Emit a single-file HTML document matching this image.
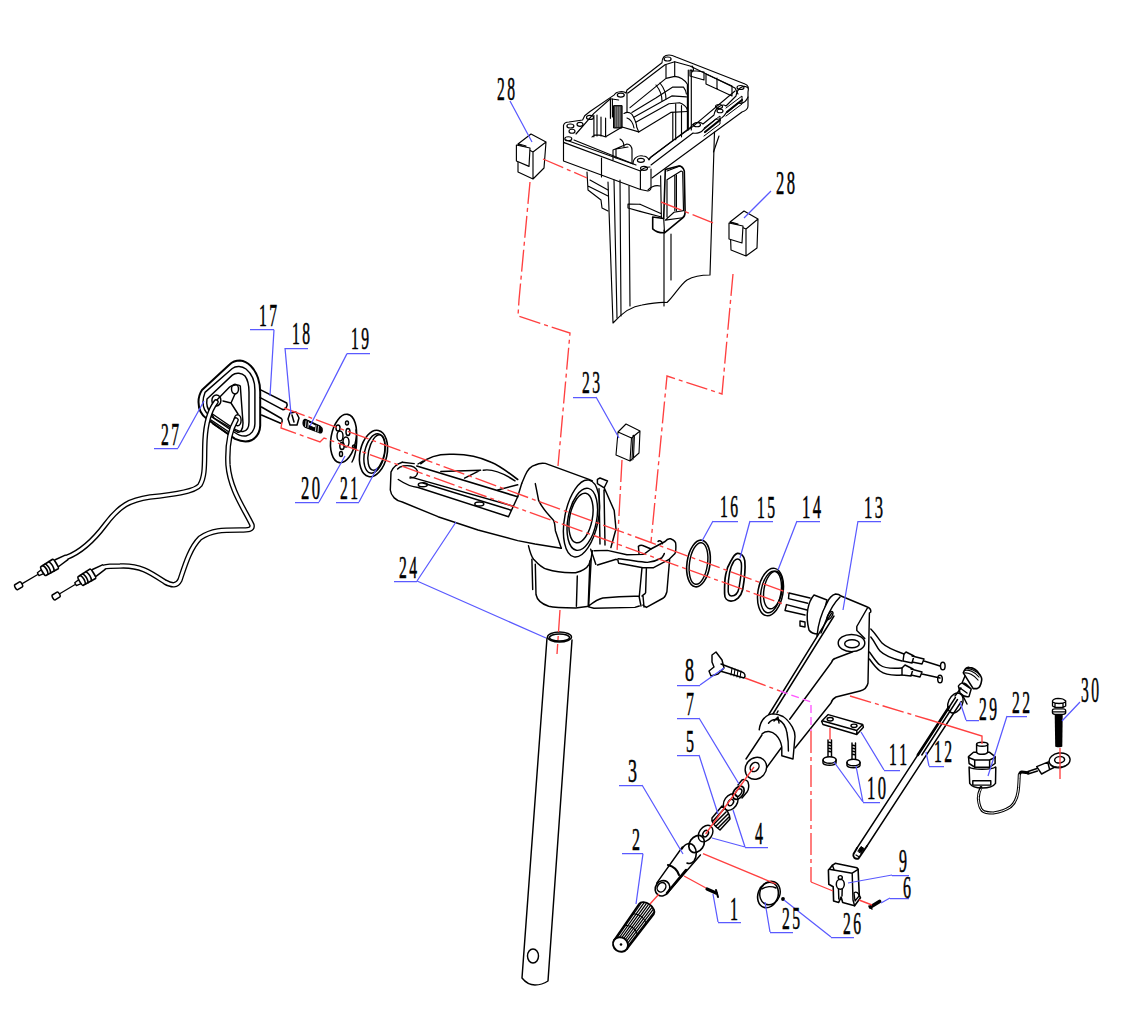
<!DOCTYPE html>
<html><head><meta charset="utf-8"><style>
html,body{margin:0;padding:0;background:#fff;}
svg{display:block;}
</style></head><body>
<svg width="1130" height="1011" viewBox="0 0 1130 1011">
<rect width="1130" height="1011" fill="#fff"/>
<g fill="none" stroke="#000" stroke-width="1.45" stroke-linejoin="round" stroke-linecap="round">

<g stroke-width="1.15">
<!-- lower case frame -->
<path d="M563.5,142.4 V125.4 C564,123 566,122 569,122 L582.6,120 L584.7,115.8 L590,111.5 L614.3,94.9 C616,91 624,91 626,93 L627,90 L662,62.8 C662,56 666,55 669,55 C672,55 674,56 676,57 L745,84 C748,85 749,88 748,92 V106 C748,109 745,111 742,112 L695.6,146 L652,178"/>
<path d="M563.5,142.4 L640.4,171 V189.5 L563.5,161 Z M601.5,158 V177"/>
<path d="M640.4,171 C643,168 647,167 650,167 M651,169 V187.4 C651,190 649,191 647.8,191 L640.4,189.5"/>
<path d="M566,140 L633,164 C633,158 638,155 643,156 C646,156 648,158 649,160 L651,157 L691,127 C693,122 700,121 703,124 L714,115 C715,108 722,103 726,106 L736,96 C737,88 744,84 748,88"/>
<path d="M651,165 L693,133 C697,134 702,132 703,130 L716,119 C720,120 724,117 726,113 L738,103 C742,104 746,102 748,97"/>
<path d="M574,140 L636,165 M576,134 L593.9,113.4 L610.4,98.8 L618.7,100 M628,93 L665,64.7 L674.7,61.8 L690,66 L735,88 L738,94"/>
<path d="M735,91 L692.4,126.9 L674.3,139.6 L648.8,158.7"/>
<path d="M690,70 L704,72 L704,80 L690,76 Z M706,74 L732,86 L732,96 L706,84 Z M717,78 L717,89 M692,66 C694,68 694,71 692,72"/>
<path d="M610.4,98.8 V118.3 M612.4,99 V117 M666,64.7 V77.4 M674.7,61.8 V76.4 M627,92.5 V112"/>
<path d="M630,107.6 L666,78.4 L674.7,76.4 C680,77 684,79 687.4,84.2 L687.4,111.5"/>
<path d="M631.9,112.4 L656.2,97.8 L672.8,87.1 L683.5,87.1 C685,89 686,91 686.4,94 M633.8,117.3 L671.8,95.9 L686.4,96.9 M635.8,122.2 L668.9,103.7 L679.6,102.7 C683,104 686,106 687.4,109.5 M638.7,131.9 L670.8,112.4 L687.4,111.5"/>
<path d="M672.8,112.4 V140.7 M675.7,103.7 V139.7 M681.5,105.6 V136.8 M687.4,107.6 V130 M688.3,70 V130 M691.3,70 V130"/>
<path d="M624,113.4 C628,111 632,113 633,116 C635,120 636.7,124 636.7,127 L638.7,131.9 M656,85 C660,90 662,96 662,101 M660,83 C664,88 666,94 666,99 M627,118 C630,119 633,123 634,128"/>
<rect x="613.9" y="105.6" width="8.2" height="22.4" fill="#333" stroke-width="1"/>
<path stroke="#fff" stroke-width="0.5" d="M615.8,107 V126.5 M617.8,107 V126.5 M619.8,107 V126.5"/>
<path d="M593.9,115.4 V136.8 M597,115 V136 M601,117 V136 M605.6,118 V136.8 M605.6,136.8 L622.1,127 L638.7,131.9 M592,137 C594,134 598,134 606,137"/>
<path d="M613,160 L613,150 L627,144 C630,144 632,147 632,150 L632,163 M616,158 L616,149 L628,147"/>
<path d="M620,139 C622,140 624,143 624,147"/>
<ellipse cx="667.6" cy="59" rx="3.5" ry="2"/>
<ellipse cx="740.5" cy="87.5" rx="3.5" ry="2"/>
<ellipse cx="697" cy="124.7" rx="3.5" ry="2"/>
<ellipse cx="719" cy="106.5" rx="3.5" ry="2"/>
<ellipse cx="720" cy="111" rx="3" ry="1.8"/>
<ellipse cx="640.9" cy="160.3" rx="3.5" ry="2"/>
<ellipse cx="644" cy="168.3" rx="3.5" ry="2"/>
<ellipse cx="620.8" cy="95.1" rx="3.5" ry="2"/>
<ellipse cx="590" cy="117.4" rx="3.5" ry="2"/>
<ellipse cx="570.4" cy="126" rx="3.5" ry="2"/>
<ellipse cx="580" cy="124.3" rx="3" ry="2"/>
<ellipse cx="572" cy="131.2" rx="3" ry="2"/>
<ellipse cx="568.3" cy="138.7" rx="3.5" ry="2"/>
<path stroke-width="2.2" d="M705,132 L720,120 M727,112 L742,100"/>
<path stroke-width="1" d="M704,128 L720,116 L720,124 L704,136 M726,108 L742,96 L742,104 L726,116"/>
<!-- case shaft -->
<path d="M608,182 L613,323 C622,313 632,306 642,305 C652,303 662,302 667,302.5 C674,296 680,285 687,280 C694,276 702,275 710,275 L714.5,132"/>
<path d="M614,180 L617,318 M620,180 L621,316 M629,186 L630,306 M664,230 L664,306 M671,234 L671,280"/>
<path d="M587,172 L588,190 L601,200 L602,208 L608,211 M588,186 L608,196 M590,180 L608,190"/>
<path d="M628,204 L640,204.3 M628,208 L640,211.4 M628,204 L628,208"/>
<path d="M648,190 C652,186 656,185 660,186"/>
<path stroke-width="1.6" d="M665.3,169.5 L678.8,165.9 C681,166 683,167 684.3,171 L685.1,212.2 C685,215 684,217 682.7,217.8 L664.5,232.8 C660,233 655,231 652.7,228.8 L652.7,217 M665.3,169.5 L663.7,218.5 L652.7,217"/>
<path d="M667,179.8 L681.1,171 C682,171 683,172 682.7,172.7 L683.5,210.6 L674,212.2 L665.3,220.1 M667,179.8 L667,217 M674.8,175.8 V210.6 M676.4,175 V210.6 M663.7,218.5 L664.5,232.8 M665.3,220.1 L682.7,217.8"/>
<path d="M660.6,175.8 L661.4,218.5 M640,204.3 L661.4,213.8 M640,211.4 L661.4,217 M667,171 L680,166"/>
<path d="M719,136 L713.5,152"/>
</g>
<!-- block 28 left -->
<path stroke-width="1.15" d="M518,144 L531,134 L546,142 L533,152 Z M518,144 L518,172 L533,179 L544,168 L546,142 M533,152 L533,179"/>
<path fill="#fff" stroke-width="1.15" d="M516.4,145 L530,148 L529,166.4 L516.4,161 Z M519,144 L526,146"/>
<!-- block 28 right -->
<path stroke-width="1.15" d="M730,222 L744,211 L758,219 L746,229 Z M730,222 L731,250 L746,256 L757,248 L758,219 M746,229 L746,256"/>
<path fill="#fff" stroke-width="1.15" d="M729,223 L743,226 L742,243 L729,239 Z M731,222 L738,224"/>
<!-- block 23 -->
<path stroke-width="1.1" d="M618,432 L626,424 L640,431 L631.5,438 Z M618,432 L616,455 L630,461 L639,453 L640,431 M631.5,438 L630,461 M633,437 L632,460 M634.4,436.5 L633.4,459 M633,436 C633,435 634,435 634.4,436"/>
<!-- swivel bracket 24 -->
<path d="M402.3,462.3 C397,464 393,467 391,472 L390.3,490 C391,496 396,501 402.3,502 L438,516.7 L478,530 L517.7,540.6 L535,544 L561.3,548.3"/>
<path d="M402.3,462.3 L414.2,463.6 M397.6,469 C400,466 406,465 411,466 C416,467 418,471 417.5,473 C417,476 414,478 410,478"/>
<path stroke-width="1.6" d="M416.8,466 L517.7,496.8"/>
<path d="M410.2,476.9 L512.4,506 M423,483 L510.5,510 M398.3,479.5 C405,484 412,487 418.2,487.5 L508.5,516.7 M508.5,516.7 L517.7,496.8 L521.7,483.5"/>
<path stroke-width="1.6" d="M420.8,463.6 C428,457 440,454 451.4,454.3 C465,454 480,457 491.2,462.3 C500,466 508,472 517.7,479.5"/>
<path d="M440.8,471.5 L480.6,470.2 L464.6,478.2 M483.2,470.2 C490,469 500,471 515,480.8 M497.8,490 L517.7,484.8 M418,464 L423,461"/>
<ellipse cx="422.8" cy="484.8" rx="4.5" ry="2"/>
<ellipse cx="479.3" cy="504" rx="4.5" ry="2"/>
<path d="M521.7,483.5 L525.2,475.2 C528,469 531,466 535.3,465 C539,463 543,463 545.3,463.4 L589,479.4 L592.4,481"/>
<path d="M535.3,483.6 C537,492 538,497 538.6,500.4 C543,510 550,516 553.7,520.6 C555,524 555,527 555.4,530.7 L561.3,548.3"/>
<ellipse cx="581.5" cy="518.5" rx="16.8" ry="39.1" transform="rotate(11 581.5 518.5)"/>
<ellipse cx="582.3" cy="519.3" rx="14.3" ry="31.5" transform="rotate(11 582.3 519.3)"/>
<ellipse cx="581" cy="518" rx="11.3" ry="25.2" transform="rotate(11 581 518)"/>
<path d="M597.4,479.4 L600,478 L607.5,481 L604.2,487.8 L597.4,483.6 Z M604.2,487.8 L614.2,510.5 L616,529 L610.9,547.5 M599,488.7 L600,544 M604,490 L605,545"/>
<path d="M528.5,545.8 C530,552 531,556 533.6,559.2 C538,564 542,568 547,569.3 C555,572 565,573 575.6,572.7 C582,571 587,568 589,564.3 C591,560 592,555 592.4,550.8"/>
<path d="M531.9,559.2 L532.7,589.5 M535.3,564.3 L536,594.5 C537,600 542,604 548.7,606.3 C555,608 565,608 575.6,608 L589,606.3 M577.3,576 L576.4,606.3 M589.9,561 L588.2,606.3"/>
<path d="M590.7,549.2 L595.8,564.3 M594,550.8 L607.3,550.4 L626.9,554.8 L643.8,554.4 L650.9,549 L665.1,541.5 C667,539 669,538.5 670.5,538.8 C674,540 676,542 675.8,544.6 C676,548 676,551 675,553.5 L668.7,559.7 L653.6,567.7 L642.9,567.7 L618.8,563.3 C618,562 618,561 618,560.2 L616.2,559.3 L597.5,565"/>
<path d="M618,558.8 C630,560 640,562 647.3,562.4 C653,562 658,560 661.6,558 C663,556 664,555 664.3,553.5 M638.4,546.4 C640,545 642,545 644,546 L651,549 M638.4,546.4 L639,554 M658,541.5 C659,540 662,541 662.5,543.7"/>
<path d="M591.2,558.8 L588.6,606.9 L593.9,608.3 L634.9,607.4 L639.3,606 M588.6,606 C595,601 598,599 602.8,598 C612,597 628,596 638.4,596.2 M642,567.7 L639.3,596.2 M646.4,568.6 L645.6,592.7 C645,594 643,595 642,596 M669.6,559.7 L666.9,591.8 C666,595 665,597 663.4,598 L646.4,607.4 L642.9,605.1 M639,596 L641,606 M643,596 L644,607"/>
<!-- tube -->
<ellipse cx="559.5" cy="637" rx="12" ry="5" fill="#fff"/>
<ellipse cx="559.5" cy="637.5" rx="10" ry="3.5"/>
<path d="M547,638 L522,978 C526,983 531,985 535,985 C540,985 545,983 548,981 L572,640"/>
<ellipse cx="533" cy="956" rx="5.5" ry="7"/>

<!-- rings 16 15 14 -->
<ellipse cx="698.5" cy="563.5" rx="11.5" ry="23.5" transform="rotate(8 698.5 563.5)" stroke-width="1.6"/>
<ellipse cx="698.5" cy="563.5" rx="9" ry="21" transform="rotate(8 698.5 563.5)"/>
<path stroke-width="1.7" d="M737.3,553.4 C741,553 744,556 744.8,560.8 C745.5,568 744,582 742.7,589.5 C741,597 736,601 731,601.2 C727,601 724.5,598 724.6,593.7 C724.5,587 724.5,580 725.7,574.6 C726.5,569 729,564 731,560.8 C733,557 735,554 737.3,553.4 Z"/>
<path stroke-width="1.5" d="M737.5,559 C740,559 741.5,562 741.5,566 C741.5,574 740,582 739,588 C738,593 735,596 731.5,596 C729,596 728,593 728.2,590 C728,584 728.5,578 729.5,573 C730.5,568 732,564 734,561 C735,560 736,559 737.5,559 Z"/>
<ellipse cx="770.5" cy="592" rx="12.5" ry="24" transform="rotate(10 770.5 592)" stroke-width="1.5"/>
<ellipse cx="771" cy="592" rx="10" ry="21" transform="rotate(10 771 592)"/>
<ellipse cx="773" cy="590" rx="9" ry="19" transform="rotate(10 773 590)"/>
<!-- steering arm 13 -->
<path d="M789,593 L810,598 M788.5,598.6 L807.7,603.2 M789,593 L788.5,598.6 M786.5,604.6 L807,610 M785,610.5 L805,615 M786.5,604.6 L785,610.5"/>
<path d="M800,621 L805,622 L805,627 L800,626 Z"/>
<path fill="#fff" d="M814,595 C808,602 805,615 809,630 C811,633 815,634 818,634 L827,600 Z"/>
<path fill="#fff" stroke="none" d="M835.6,594 C838,594 840,595 841,596 L867.4,607 C870,608 871,610 870.8,612 L869.4,613 L868,683 C867,688 864,690 860,691 L836,697 C834,698 832,700 831,703 L795,748 L768,716 L817,636 C818,625 822,612 827,603 C829,598 832,595 835.6,594 Z"/>
<path d="M817,636 C818,625 822,612 827,603 C829,598 832,595 835.6,594 C838,594 840,595 841,596 L867.4,607 C870,608 871,610 870.8,612 L869.4,613 L868,683 C867,688 864,690 860,691 L836,697 C834,698 832,700 831,703 L795,748"/>
<path d="M840,597 C835,602 830,610 827,618 C825,623 823,628 821,633"/>
<path d="M867.4,608 L856.8,626.5 L856.8,630.4 L864.8,638.4"/>
<ellipse cx="851.5" cy="643" rx="13.3" ry="8.6" fill="#fff"/>
<ellipse cx="852" cy="643.7" rx="7.3" ry="4"/>
<path d="M852.8,651.7 L835.6,658.3 C833,659 832,661 831.6,662.3 L789.7,719.2"/>
<path d="M831.6,613.2 L768.5,715 M834,616 L771,717"/>
<ellipse cx="830" cy="615.5" rx="2" ry="4.5" transform="rotate(30 830 615.5)"/>
<path d="M870.8,629 C876,634 879,640 882,643 C885,646 890,649 904,654 M870.8,637 C875,642 877,648 880,651 C884,655 890,658 902,661 M869.4,652 C874,658 876,662 880,665 C884,668 890,669 902,668 M869.4,659 C873,664 876,668 880,671 C884,674 890,676 902,675"/>
<path d="M904,654 L906,652 L914,656 L912,663 L903,661 Z M912,656 L924,659 L922,664 L912,662 M924,661 L940,666 M902,668 L905,665 L913,669 L911,676 L902,675 Z M911,669 L922,672 L920,677 L911,675 M922,674 L940,678"/>
<ellipse cx="942.8" cy="666" rx="2.3" ry="3.8"/>
<ellipse cx="940" cy="679" rx="2.3" ry="3.8"/>
<path fill="#fff" stroke="none" d="M759.2,729.8 C760,724 762,720 764.5,717.9 C767,715 770,714 773.8,713.9 C777,714 780,715 783,716.5 C787,719 790,723 792.4,727.2 C794,730 795,733 795,736.5 L793,759 L781.8,755.7 L781.8,747 L763.2,772.3 L746,759 Z"/>
<path d="M759.2,729.8 C760,724 762,720 764.5,717.9 C767,715 770,714 773.8,713.9 C777,714 780,715 783,716.5 C787,719 790,723 792.4,727.2 C794,730 795,733 795,736.5 L793,759 L781.8,755.7 L781.8,748"/>
<path d="M768.5,723.2 C771,720 775,719 779,720 C783,722 786,727 787,733 C788,738 788.5,745 788.4,751"/>
<path d="M774,721 L778,717 L779,723 M777,713 L778,711"/>
<path d="M761.9,735 L746,759 M781.8,747 L763.2,772.3 M762,734 C766,730 772,731 776,735 C779,738 781,742 781.8,747"/>
<ellipse cx="755.9" cy="768.3" rx="10.2" ry="11.5" transform="rotate(40 755.9 768.3)" fill="#fff"/>
<ellipse cx="754.6" cy="767" rx="4" ry="5" transform="rotate(40 754.6 767)"/>
<!-- plate 11 -->
<path d="M821.6,721.2 L828.2,714.6 L862.7,724.5 L863.4,727.2 L856.8,734.5 L823,724.5 Z M823,724.5 L821.6,721.2 M856.8,730.5 L862.7,724.5 M823,721 L856.8,730.5 L856.8,734.5"/>
<ellipse cx="830.2" cy="719.2" rx="3" ry="1.7"/>
<ellipse cx="854" cy="725.8" rx="3" ry="1.7"/>
<!-- screws 10 -->
<path d="M828,740 L828,757 M831.5,740 L831.5,757 M828,742 L831.5,743 M828,745 L831.5,746 M828,748 L831.5,749 M828,751 L831.5,752"/>
<ellipse cx="829.6" cy="760" rx="6.6" ry="3.3" fill="#fff"/>
<path d="M823,760 V763 C824,766 835,766 836,763 V760"/>
<path d="M852,743 L852,759 M855.5,743 L855.5,759 M852,745 L855.5,746 M852,748 L855.5,749 M852,751 L855.5,752 M852,754 L855.5,755"/>
<ellipse cx="853.5" cy="762.5" rx="6.6" ry="3.3" fill="#fff"/>
<path d="M847,762.5 V765.5 C848,768.5 859,768.5 860,765.5 V762.5"/>
<!-- part 8 wing screw -->
<path d="M712,655 L716,652 L722,660 L724,668 L718,674 L711,676 L709,671 L714,667 L712,662 Z"/>
<path d="M721,664 L742,672 C745,673 746,676 744,678 L720,671"/>
<path stroke-width="1.1" d="M732,668 L731,675 M735,669 L734,676 M738,670 L737,677 M741,671 L740,678"/>
<!-- nut 7, washers, spring -->
<path d="M738,785 L742,780 C744,779 747,780 748,782 C749,785 749,789 747,792 L742,798"/>
<ellipse cx="738.4" cy="792.8" rx="4.8" ry="7.3" transform="rotate(35 738.4 792.8)" stroke-width="1.7"/>
<ellipse cx="738.6" cy="792.6" rx="2.6" ry="4.2" transform="rotate(35 738.6 792.6)"/>
<ellipse cx="730.7" cy="802.1" rx="6.4" ry="9" transform="rotate(35 730.7 802.1)"/>
<ellipse cx="730.7" cy="802.5" rx="2.5" ry="3.5" transform="rotate(35 730.7 802.5)"/>
<path stroke-width="1.5" d="M712,818 L722,806 M713,821 L724,809 M714,824 L726,812 M716,826 L728,814 M718,828 L729,817 M720,830 L730,819 M712,818 C711,821 714,826 720,830 M722,806 C726,808 730,814 730,819"/>
<ellipse cx="705.6" cy="833.6" rx="6.4" ry="9" transform="rotate(35 705.6 833.6)"/>
<ellipse cx="705.6" cy="833.6" rx="2.5" ry="3.5" transform="rotate(35 705.6 833.6)"/>
<!-- shaft 3 -->
<ellipse cx="696.6" cy="844" rx="7" ry="9.2" transform="rotate(35 696.6 844)" stroke-width="1.7"/>
<path stroke-width="1.6" d="M682,849 C685,843 691,842 694,846 C697,850 697,857 694,861 C692,863 689,864 687,863"/>
<path d="M682.4,847 L656.7,883.2 M700.4,854.9 L667,893.4"/>
<ellipse cx="662.5" cy="888.3" rx="7" ry="8" transform="rotate(35 662.5 888.3)" fill="#fff" stroke-width="1.6"/>
<ellipse cx="661.5" cy="887.3" rx="4" ry="5" transform="rotate(35 661.5 887.3)"/>
<path stroke-width="2.5" d="M686,870 L667,893"/>
<path stroke-width="2.2" d="M668,865 C672,866 677,869 679,875"/>
<!-- screw 1 -->
<path stroke-width="3.2" d="M707,889 L716,893"/>
<path stroke-width="2" d="M716,890 L718,897"/>
<!-- grip 2 -->
<clipPath id="gripclip"><path d="M626.8,949.1 L653.8,914.3 A5.5,9.0 -53.8 0 0 639.2,903.7 L614.2,939.9 Z"/></clipPath>
<path fill="#fff" stroke-width="1.8" d="M626.8,949.1 L653.8,914.3 A5.5,9.0 -53.8 0 0 639.2,903.7 L614.2,939.9 Z"/>
<g clip-path="url(#gripclip)" stroke-width="1.25">
<path d="M616.2,938.9 L642.5,901.1 M617.7,940.0 L644.3,902.4 M619.3,941.2 L646.1,903.8 M620.9,942.3 L648.0,905.1 M622.5,943.5 L649.8,906.4 M624.0,944.6 L651.6,907.8 M625.6,945.8 L653.4,909.1 M627.2,946.9 L655.2,910.4"/>
<path d="M636.5,936.6 A5,8.2 -53.8 0 0 623.2,926.9" stroke-width="1.1" fill="none"/><path d="M645.1,925.5 A5,8.6 -53.8 0 0 631.2,915.3" stroke-width="1.1" fill="none"/>
</g>
<ellipse cx="620.5" cy="944.5" rx="7" ry="7.8" transform="rotate(-53.8 620.5 944.5)" fill="#fff" stroke-width="1.9"/>
<circle cx="621.0" cy="944.5" r="1.3" fill="#000" stroke="none"/>
<!-- ring 25 -->
<ellipse cx="768" cy="895" rx="10" ry="13" transform="rotate(20 768 895)" stroke-width="1.6"/>
<ellipse cx="770" cy="893" rx="10" ry="12" transform="rotate(20 770 893)"/>
<path d="M762,889 C766,886 772,886 776,888"/>
<circle cx="783" cy="899" r="1.2" fill="#000"/>
<!-- bracket 9 -->
<path stroke-width="1.6" d="M829.2,869.3 L832.4,865.3 L835.2,863.3 L856.9,867.7 L858.1,869.3 L859.3,895.4 L860.5,897.8 L854.6,905.7 L842.7,902.5 L841.1,897 L838.7,902.5 L833.6,900.9 L833.2,886.7 L828.8,884.3 L828.4,870 Z"/>
<path d="M829.2,869.3 L852.2,873.2 L858.1,869.3 M852.2,873.2 L853,900 L854.6,905.7 M832.4,865.3 L834,869.5"/>
<ellipse cx="840.3" cy="884.3" rx="4" ry="5"/>
<circle cx="840.3" cy="877.6" r="2"/>
<path d="M838.5,889 L838.8,899 M842.2,889 L842,896"/>
<path stroke-width="1.3" d="M854,893 C856,891 859,893 859,896 L855,901 Z"/>
<!-- screw 6 -->
<path stroke-width="3.8" d="M870.5,907 L879.5,901.5"/>
<path stroke-width="1.5" d="M869,906 L872,909"/>
<!-- rod 12 -->
<path d="M955.4,697.5 L857,848 M961.3,701.5 L867,846 M957.5,699.5 L921.8,755"/>
<path stroke-width="2.6" d="M949,707 L917.8,755"/>
<path stroke-width="1.9" d="M857,848 L853.5,854 C852.5,857 855,859.5 858.5,858.5 L867,846"/>
<path fill="#000" stroke-width="1" d="M858,851 L861,846.5 L864,848.5 L861,853 Z"/>
<path stroke-width="1.2" d="M856,855 L858.5,856.5"/>
<!-- part 29 knob -->
<path fill="#fff" stroke-width="1.6" d="M963.3,672.8 C965,668 967,667 969.2,667.4 C973,668 977,670 979.1,673.8 C981,676 982,679 981.6,680.7 C981,685 979,688 977.2,688.6 L973.2,688.6 Z"/>
<path stroke-width="1.2" d="M964.5,670.5 C968,669 975,672 979,677 M964,673 C968,672 974,675 978,680 M966,668.5 C970,668 976,671 980,675"/>
<path d="M965,676 L962,683 L971,689 M958.4,686 C960,683 963,682 966,684 L971.2,689 L969,696.5 C967,697 963,696 960,693 Z M960,688 L967,693"/>
<path d="M955,696 L961,688 M963,696 L967,704"/>
<ellipse cx="955.4" cy="703" rx="7" ry="10.5" transform="rotate(25 955.4 703)"/>
<!-- sensor 22 -->
<path d="M976.6,744.2 L976.6,757 M987.7,744.2 L987.7,757 M976.6,757 C978,759 986,759 987.7,757"/>
<ellipse cx="982.2" cy="744.2" rx="5.6" ry="2"/>
<path fill="#fff" stroke-width="1.5" d="M968.5,756.6 L973.5,752.3 L976.6,752.3 C978,755 986,755 987.7,752.3 L989.6,752.3 L995.1,756.6 L995.1,763.5 L989.6,767.2 L974.7,767.2 L969.1,763.5 Z"/>
<path d="M968.5,757.5 L974.7,760 L989.6,760 L995.1,757.5 M974.7,760 V767.2 M989.6,760 V767.2"/>
<path stroke-width="1.5" d="M969.1,767 C972,770 992,770 995.5,767 M969.1,767.2 L969.7,783.3 C972,787 977,788 982.1,788 C988,788 993,787 995.5,783.3 L995.8,767.2"/>
<path d="M972.8,780.8 L990.8,780.8 L990.8,785.1 L972.8,785.1 Z"/>
<path stroke-width="3" d="M980.9,787.5 C979,792 978,796 978.4,799.4 C979,805 980,808 982.1,810.5 C985,813 989,813 993.3,813 C1000,812 1006,810 1010.6,806.8 C1015,803 1017,798 1018,792 C1019,786 1019,780 1019.3,774.6 C1020,773 1021,772 1021.8,772.1 L1028,772.8"/>
<path stroke="#fff" stroke-width="1" d="M980.9,789 C979,792 978,796 978.4,799.4 C979,805 980,808 982.1,810.5 C985,813 989,813 993.3,813 C1000,812 1006,810 1010.6,806.8 C1015,803 1017,798 1018,792 C1019,786 1019,780 1019.3,774.6"/>
<path d="M1028,771.5 L1037,768.5 M1028,774 L1037.5,771"/>
<path fill="#fff" d="M1036.7,766.6 L1047.8,762.2 L1049.7,769.7 L1041.6,774 Z M1047.8,762.2 L1053,761 L1055,767 L1049.7,769.7"/>
<ellipse cx="1059.6" cy="760.4" rx="10.5" ry="7.4" transform="rotate(-8 1059.6 760.4)" fill="#fff"/>
<ellipse cx="1059.6" cy="759.8" rx="5" ry="3.2" transform="rotate(-8 1059.6 759.8)"/>
<path stroke-width="1" d="M1051,765 C1055,768 1065,768 1069,763"/>
<!-- bolt 30 -->
<path fill="#fff" stroke-width="1.3" d="M1052.5,701 C1053,699 1055,698.5 1058,698.3 C1061,698.3 1064,698.8 1065.7,701 L1065.7,706 L1063,707.4 L1055,707.4 L1052.5,706 Z M1052.5,702 C1055,704 1063,704 1065.7,702 M1055,703.5 V707.4 M1063,703.5 V707.4"/>
<path fill="#fff" stroke-width="1.3" d="M1052.4,710.5 C1052.4,709 1054,708.9 1055,708.9 L1063,708.9 C1064.5,708.9 1065.7,709.5 1065.7,710.8 L1065.7,712.5 C1065.7,713.8 1064,714.3 1063,714.3 L1055,714.3 C1053.5,714.3 1052.4,713.8 1052.4,712.5 Z M1052.5,711.8 H1065.6"/>
<path fill="#000" stroke="none" d="M1054.7,714.3 L1062.7,714.3 L1062.3,746.5 C1062,747.5 1055.5,747.5 1055.2,746.5 Z"/>
<!-- grommet 27 + cables -->
<path stroke-width="2" d="M202,390 L229.6,364.5 C233,361 236,360.5 240,360.5 C248,361 255,369 258,378 C260,384 260.2,388 260.2,392 L260.2,425.6 C260,432 257,437 252,440 C248,442 242,442 235,438.9 L207,419 C201,415 198.5,409 198.5,402 C198.5,397 200,393 202,390 Z"/>
<path d="M205,392.4 L232.3,368.5 C236,365.5 242,366 246,369 C251,373 254.9,380 254.9,390 L254.9,424 C254.9,430 251,435 246,436 C242,436.5 238,435 234,432 L209,415 C205,412 203,408 203,402 C203,398 204,395 205,392.4 Z"/>
<path d="M207,399 L232.3,375.1 C236,372 242,373 245,376 C248,380 249,385 249,392 L249,422 C249,427 247,431 243,431.5 C240,432 236,430 233,428 L211,413 C208,410 206,405 207,399 Z"/>
<path d="M212,405 L229.6,387 C232,385 238,384 240.3,386 L243,423 C243,430 240,433 237.6,432.2 L214,418 C211,414 210,409 212,405 Z"/>
<path d="M223,401 L231,403 L235,394 M231,403 L238,414"/>
<ellipse cx="216.4" cy="400.4" rx="4.5" ry="5.5"/>
<ellipse cx="235" cy="389.1" rx="3.5" ry="4.8"/>
<ellipse cx="237.6" cy="420.3" rx="3.5" ry="5.5"/>
<path d="M211,420 L232,434 M213,424 L228,434"/>
<path stroke-width="1.5" d="M260.2,389.7 L286.7,403 M260.2,397.7 L282.7,409.6 M261.5,407 L281.4,418.5 M261.5,415 L280,423 M286.7,403 C288,405 286,410 282.7,409.6 M281.4,418.5 C283,420 282,424 280,423"/>
<path fill="none" stroke="#000" stroke-width="5.5" d="M216,402 C210,410 206,420 205,440 C204,460 206,475 200,485 C195,492 170,495 150,497 C130,500 120,505 105,525 C90,545 78,553 66.6,557.4"/>
<path fill="none" stroke="#fff" stroke-width="2.8" d="M216,402 C210,410 206,420 205,440 C204,460 206,475 200,485 C195,492 170,495 150,497 C130,500 120,505 105,525 C90,545 78,553 66.6,557.4"/>
<path fill="none" stroke="#000" stroke-width="5.5" d="M236,420 C230,430 227,445 228,465 C230,490 245,510 252,525 C253,530 248,530 240,530 C222,530 212,530 200,538 C190,548 185,565 180,580 C177,586 172,586 165,582 C150,572 140,565 120,566 C112,566 108,566 103.8,567.1"/>
<path fill="none" stroke="#fff" stroke-width="2.8" d="M236,420 C230,430 227,445 228,465 C230,490 245,510 252,525 C253,530 248,530 240,530 C222,530 212,530 200,538 C190,548 185,565 180,580 C177,586 172,586 165,582 C150,572 140,565 120,566 C112,566 108,566 103.8,567.1"/>
<g transform="translate(66.6,557.4) rotate(149.4)">
<path fill="#fff" stroke-width="1.5" d="M0,-2.6 L11,-3.8 C15,-3.8 15,3.8 11,3.8 L0,2.6"/>
<path fill="#fff" stroke-width="1.7" d="M13,-5.5 L27,-5 C28.5,-5 28.5,5 27,5 L13,5.5 C11.5,5.5 11.5,-5.5 13,-5.5 Z"/>
<path stroke-width="1.6" d="M17.5,-5.4 C16,-2 16,2 17.5,5.4 M21.5,-5.3 C20,-2 20,2 21.5,5.3 M24.5,-5.1 C23,-2 23,2 24.5,5.1"/>
<path stroke-width="1.3" d="M28,-2.3 L33,-1.6 L33,1.6 L28,2.3 M33,0 L53,0"/>
<path stroke-width="1.5" fill="#fff" d="M53,-2.8 L58.5,-2.8 C60,-2.8 60,2.8 58.5,2.8 L53,2.8 C51.5,2.8 51.5,-2.8 53,-2.8 Z"/>
</g>
<g transform="translate(103.8,567.1) rotate(148.8)">
<path fill="#fff" stroke-width="1.5" d="M0,-2.6 L11,-3.8 C15,-3.8 15,3.8 11,3.8 L0,2.6"/>
<path fill="#fff" stroke-width="1.7" d="M13,-5.5 L27,-5 C28.5,-5 28.5,5 27,5 L13,5.5 C11.5,5.5 11.5,-5.5 13,-5.5 Z"/>
<path stroke-width="1.6" d="M17.5,-5.4 C16,-2 16,2 17.5,5.4 M21.5,-5.3 C20,-2 20,2 21.5,5.3 M24.5,-5.1 C23,-2 23,2 24.5,5.1"/>
<path stroke-width="1.3" d="M28,-2.3 L33,-1.6 L33,1.6 L28,2.3 M33,0 L53,0"/>
<path stroke-width="1.5" fill="#fff" d="M53,-2.8 L58.5,-2.8 C60,-2.8 60,2.8 58.5,2.8 L53,2.8 C51.5,2.8 51.5,-2.8 53,-2.8 Z"/>
</g>
<!-- nut 18, stud 19 -->
<path stroke-width="1.5" d="M290,413 L296,412 L299,418 L297,425 L290,425 L288,419 Z M292,415 L294,422"/>
<path fill="#000" stroke-width="1.2" d="M303,423 C303,419 305,419 307,420 L320,426 C323,428 323,433 320,433 L307,428 C304,427 303,425 303,423 Z"/>
<path stroke-width="0.8" stroke="#fff" d="M306,421 L305.5,426.5 M308.5,422 L308,427.5 M316,425.5 L315.5,431 M318.5,426.5 L318,432"/>
<path stroke-width="2.5" stroke="#fff" d="M310,424 L314,426"/>
<!-- plate 20 -->
<ellipse cx="343.5" cy="438.5" rx="12.5" ry="24.5" transform="rotate(10 343.5 438.5)" stroke-width="1.6"/>
<path d="M356,430 C358,440 356,455 352,462"/>
<ellipse cx="340" cy="436" rx="3" ry="5"/>
<ellipse cx="346" cy="442" rx="3" ry="5"/>
<ellipse cx="342" cy="446" rx="2.2" ry="3.5"/>
<ellipse cx="348" cy="432" rx="2" ry="3.5"/>
<ellipse cx="338" cy="428" rx="2" ry="3"/>
<ellipse cx="341" cy="454" rx="1.5" ry="2.5"/>
<ellipse cx="347" cy="423" rx="1.5" ry="2"/>
<ellipse cx="354" cy="447" rx="1.5" ry="2"/>
<!-- ring 21 -->
<ellipse cx="373.5" cy="453.5" rx="13.5" ry="23.5" transform="rotate(12 373.5 453.5)" stroke-width="1.6"/>
<ellipse cx="374.5" cy="453.5" rx="10" ry="20" transform="rotate(12 374.5 453.5)"/>
<ellipse cx="376.5" cy="452.5" rx="8" ry="18" transform="rotate(12 376.5 452.5)"/>

</g>
<g fill="none" stroke="#ff4040" stroke-width="1.35">

<path stroke-dasharray="22 4 4 4" d="M543,159 L587,178 M661,202 L716,224"/>
<path stroke-dasharray="22 4 4 4" d="M530,182 L519,300 L518,316 L570,333 L558,466"/>
<path stroke-dasharray="22 4 4 4" d="M560,610 L557,654"/>
<path stroke-dasharray="22 4 4 4" d="M733,274 L726,350 L722,394 L667,376 L651,542"/>
<path stroke-dasharray="22 4 4 4" d="M622,460 L617,552"/>
<path stroke-dasharray="22 4 4 4" d="M284,408 L788,592.8"/>
<path stroke-dasharray="22 4 4 4" d="M282,422 L281,428 L320,442 L324,438 L786,605"/>
<path stroke-dasharray="22 4 4 4" d="M745,678 L780,691"/>
<path stroke="#ff55ff" stroke-dasharray="8 4" d="M780,691 L811,702 L811,731"/>
<path stroke-dasharray="22 4 4 4" d="M811,731 L811,882"/>
<path d="M811,882 L833,891 M859,900 L872,905"/>
<path stroke-dasharray="22 4 4 4" d="M850,696 L930,720"/>
<path d="M930,720 L982,736 L982,744"/>
<path d="M830,728 L830,740 M1060,748 L1060,779"/>
<path d="M754,767 L705.6,834 M703,853.6 L776,884 M684,876 L706,888 M650,904 L659,894"/>

</g>
<g fill="none" stroke="#5a5aff" stroke-width="1.25">
<path d="M510,101L532,142 M771,191L744,218 M573,397.5H596 M596,397L619,438 M394,581.5H417 M417,581L456,522 M417,581L546,638 M713,521.5H738 M713,521L702,541 M750,521.5H773 M750,521L740,558 M797,521.5H820 M797,521L778,570 M858,521.5H881 M858,521L843,610 M250,329.5H274 M274,329.6L270,396 M285,348.5H308 M285,348L291,414 M347,353.5H370 M347,353.6L310,426 M154,448.5H178 M178,448L204,401 M295,502.5H319 M319,502L345,456 M336,502.5H359 M359,502L377,468 M677,685.5H700 M700,685L724,668 M677,718.5H699 M699,718L739,784 M677,755.5H699 M699,755L718,814 M619,785.5H642 M642,785L683,854 M745,847.5H768 M745,847L712,838 M745,847L733,810 M622,853.5H643 M643,853.6L636,904 M718,922.5H741 M718,922L713,894 M770,932.5H793 M770,932L765,902 M831,937.5H854 M831,937L784,900 M892,875.5H909 M892,875L848,883 M890,898.5H909 M890,898L881,903 M884,770.5H900 M884,770L861,732 M863,802.5H880 M863,802L834,762 M863,802L856,766 M929,766.5H944 M929,766L926,752 M966,720.5H979 M966,720L960,702 M1007,716.5H1027 M1007,716L988,776 M1080,702L1062,721"/>
</g>
<g font-family="Liberation Serif" fill="#000" stroke="#000" stroke-width="0.55">
<text x="497.0" y="100.3" textLength="7.8" lengthAdjust="spacingAndGlyphs" font-size="34.0">2</text>
<text x="507.2" y="100.3" textLength="7.8" lengthAdjust="spacingAndGlyphs" font-size="34.0">8</text>
<text x="776.0" y="194.3" textLength="8.3" lengthAdjust="spacingAndGlyphs" font-size="34.0">2</text>
<text x="786.7" y="194.3" textLength="8.3" lengthAdjust="spacingAndGlyphs" font-size="34.0">8</text>
<text x="582.0" y="393.3" textLength="7.8" lengthAdjust="spacingAndGlyphs" font-size="32.5">2</text>
<text x="592.2" y="393.3" textLength="7.8" lengthAdjust="spacingAndGlyphs" font-size="32.5">3</text>
<text x="399.0" y="578.3" textLength="7.8" lengthAdjust="spacingAndGlyphs" font-size="32.5">2</text>
<text x="409.2" y="578.3" textLength="7.8" lengthAdjust="spacingAndGlyphs" font-size="32.5">4</text>
<text x="720.0" y="517.3" textLength="7.8" lengthAdjust="spacingAndGlyphs" font-size="32.5">1</text>
<text x="730.2" y="517.3" textLength="7.8" lengthAdjust="spacingAndGlyphs" font-size="32.5">6</text>
<text x="757.0" y="518.3" textLength="7.8" lengthAdjust="spacingAndGlyphs" font-size="32.5">1</text>
<text x="767.2" y="518.3" textLength="7.8" lengthAdjust="spacingAndGlyphs" font-size="32.5">5</text>
<text x="802.0" y="518.3" textLength="8.3" lengthAdjust="spacingAndGlyphs" font-size="34.0">1</text>
<text x="812.7" y="518.3" textLength="8.3" lengthAdjust="spacingAndGlyphs" font-size="34.0">4</text>
<text x="864.0" y="518.3" textLength="8.3" lengthAdjust="spacingAndGlyphs" font-size="32.5">1</text>
<text x="874.7" y="518.3" textLength="8.3" lengthAdjust="spacingAndGlyphs" font-size="32.5">3</text>
<text x="259.0" y="326.3" textLength="7.8" lengthAdjust="spacingAndGlyphs" font-size="32.5">1</text>
<text x="269.2" y="326.3" textLength="7.8" lengthAdjust="spacingAndGlyphs" font-size="32.5">7</text>
<text x="292.0" y="344.3" textLength="7.8" lengthAdjust="spacingAndGlyphs" font-size="32.5">1</text>
<text x="302.2" y="344.3" textLength="7.8" lengthAdjust="spacingAndGlyphs" font-size="32.5">8</text>
<text x="351.0" y="349.3" textLength="7.8" lengthAdjust="spacingAndGlyphs" font-size="32.5">1</text>
<text x="361.2" y="349.3" textLength="7.8" lengthAdjust="spacingAndGlyphs" font-size="32.5">9</text>
<text x="161.0" y="445.3" textLength="7.8" lengthAdjust="spacingAndGlyphs" font-size="32.5">2</text>
<text x="171.2" y="445.3" textLength="7.8" lengthAdjust="spacingAndGlyphs" font-size="32.5">7</text>
<text x="301.0" y="499.3" textLength="8.3" lengthAdjust="spacingAndGlyphs" font-size="34.0">2</text>
<text x="311.7" y="499.3" textLength="8.3" lengthAdjust="spacingAndGlyphs" font-size="34.0">0</text>
<text x="340.0" y="499.3" textLength="7.8" lengthAdjust="spacingAndGlyphs" font-size="34.0">2</text>
<text x="350.2" y="499.3" textLength="7.8" lengthAdjust="spacingAndGlyphs" font-size="34.0">1</text>
<text x="685.0" y="681.3" textLength="9.0" lengthAdjust="spacingAndGlyphs" font-size="34.0">8</text>
<text x="686.0" y="715.3" textLength="8.0" lengthAdjust="spacingAndGlyphs" font-size="34.0">7</text>
<text x="686.0" y="752.3" textLength="8.0" lengthAdjust="spacingAndGlyphs" font-size="32.5">5</text>
<text x="628.0" y="782.3" textLength="9.0" lengthAdjust="spacingAndGlyphs" font-size="34.0">3</text>
<text x="755.0" y="844.3" textLength="8.0" lengthAdjust="spacingAndGlyphs" font-size="32.5">4</text>
<text x="632.0" y="850.3" textLength="8.0" lengthAdjust="spacingAndGlyphs" font-size="32.5">2</text>
<text x="730.0" y="920.3" textLength="8.0" lengthAdjust="spacingAndGlyphs" font-size="34.0">1</text>
<text x="782.0" y="929.3" textLength="7.8" lengthAdjust="spacingAndGlyphs" font-size="32.5">2</text>
<text x="792.2" y="929.3" textLength="7.8" lengthAdjust="spacingAndGlyphs" font-size="32.5">5</text>
<text x="843.0" y="934.3" textLength="7.8" lengthAdjust="spacingAndGlyphs" font-size="32.5">2</text>
<text x="853.2" y="934.3" textLength="7.8" lengthAdjust="spacingAndGlyphs" font-size="32.5">6</text>
<text x="899.0" y="872.3" textLength="8.0" lengthAdjust="spacingAndGlyphs" font-size="34.0">9</text>
<text x="903.0" y="898.3" textLength="8.0" lengthAdjust="spacingAndGlyphs" font-size="32.5">6</text>
<text x="889.0" y="765.3" textLength="7.8" lengthAdjust="spacingAndGlyphs" font-size="32.5">1</text>
<text x="899.2" y="765.3" textLength="7.8" lengthAdjust="spacingAndGlyphs" font-size="32.5">1</text>
<text x="867.0" y="799.3" textLength="8.3" lengthAdjust="spacingAndGlyphs" font-size="34.0">1</text>
<text x="877.7" y="799.3" textLength="8.3" lengthAdjust="spacingAndGlyphs" font-size="34.0">0</text>
<text x="934.0" y="762.3" textLength="7.8" lengthAdjust="spacingAndGlyphs" font-size="32.5">1</text>
<text x="944.2" y="762.3" textLength="7.8" lengthAdjust="spacingAndGlyphs" font-size="32.5">2</text>
<text x="979.0" y="720.3" textLength="7.8" lengthAdjust="spacingAndGlyphs" font-size="34.0">2</text>
<text x="989.2" y="720.3" textLength="7.8" lengthAdjust="spacingAndGlyphs" font-size="34.0">9</text>
<text x="1012.0" y="713.3" textLength="7.8" lengthAdjust="spacingAndGlyphs" font-size="32.5">2</text>
<text x="1022.2" y="713.3" textLength="7.8" lengthAdjust="spacingAndGlyphs" font-size="32.5">2</text>
<text x="1081.0" y="702.3" textLength="7.8" lengthAdjust="spacingAndGlyphs" font-size="35.5">3</text>
<text x="1091.2" y="702.3" textLength="7.8" lengthAdjust="spacingAndGlyphs" font-size="35.5">0</text>
</g>
</svg>
</body></html>
